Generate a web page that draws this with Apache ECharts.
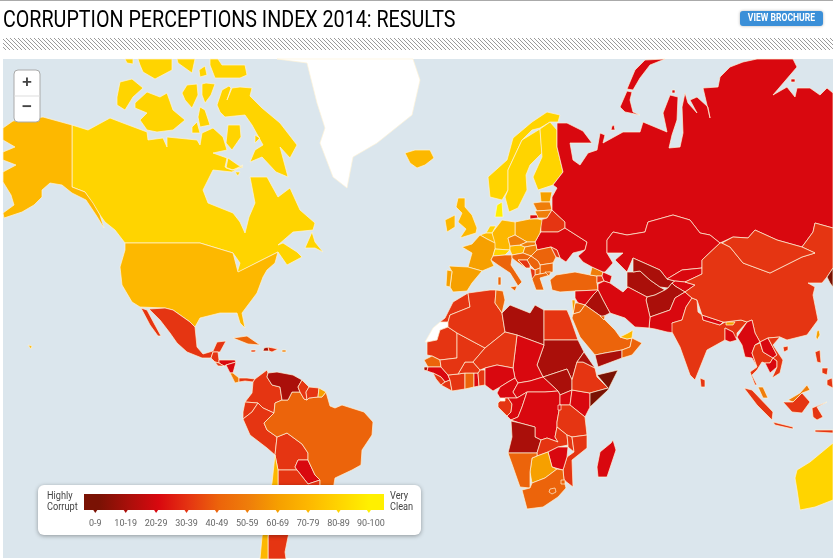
<!DOCTYPE html>
<html>
<head>
<meta charset="utf-8">
<title>Corruption Perceptions Index 2014</title>
<style>
  * { margin: 0; padding: 0; }
  #chart-container { width: 833px; height: 560px; overflow: hidden; }
</style>
</head>
<body>
<div id="chart-container"></div>
<script src="https://cdn.jsdelivr.net/npm/echarts@6/dist/echarts.min.js"></script>
<script>
const countries = ['Canada','United States','Iceland','Mexico','Guatemala','Honduras','El Salvador','Nicaragua','Costa Rica','Panama','Cuba','Haiti','Dominican Republic','Puerto Rico','Jamaica','Colombia','Ecuador','Peru','Bolivia','Paraguay','Argentina','Chile','Brazil','Venezuela','Guyana','Suriname','French Guiana',
  'Norway','Sweden','Finland','Denmark','Estonia','Latvia','Lithuania','Belarus','Ukraine','Poland','Germany','Netherlands','Belgium','France','Spain','Portugal','United Kingdom','Ireland','Switzerland','Italy','Austria','Czech Republic','Slovakia','Hungary','Romania','Moldova','Bulgaria','Serbia','Croatia','Bosnia','Macedonia','Albania','Greece','Turkey','Georgia','Armenia','Azerbaijan','Russia',
  'Kazakhstan','Turkmenistan','Uzbekistan','Kyrgyzstan','Tajikistan','Afghanistan','Pakistan','Iran','Iraq','Syria','Jordan','Israel','Saudi Arabia','Yemen','Oman','UAE','Kuwait','India','Nepal','Bangladesh','Bhutan','China','Mongolia','Taiwan','North Korea','Myanmar','Thailand','Laos','Cambodia','Vietnam','Malaysia','Indonesia','Philippines','Sri Lanka','Australia',
  'Morocco','Mauritania','Senegal','Guinea-Bissau','Guinea','Sierra Leone','Liberia','Ivory Coast','Ghana','Togo','Benin','Burkina Faso','Mali','Algeria','Tunisia','Libya','Egypt','Sudan','South Sudan','Chad','Niger','Nigeria','Cameroon','Central African Republic','Gabon','Congo','DR Congo','Uganda','Kenya','Tanzania','Burundi','Angola','Zambia','Malawi','Mozambique','Zimbabwe','Botswana','Namibia','South Africa','Lesotho','Swaziland','Madagascar','Ethiopia','Eritrea','Somalia'];
const scores = [81,74,79,35,32,29,39,28,54,37,46,19,32,58,38,37,33,38,35,24,34,73,43,19,30,36,69,
  86,87,89,92,69,55,58,31,26,61,79,83,76,69,60,63,78,74,86,43,72,51,50,54,43,35,43,41,48,39,45,33,43,45,52,37,29,27,
  29,17,18,27,23,12,29,27,16,20,49,60,49,19,45,70,44,38,29,25,65,36,39,61,8,21,38,25,21,31,52,34,38,38,80,
  39,30,43,19,25,31,37,32,48,29,39,38,32,36,40,18,37,11,15,22,35,27,27,24,37,23,22,26,25,31,20,19,38,33,31,21,63,49,44,49,43,28,33,18,8];

const bandLabels = ['0-9','10-19','20-29','30-39','40-49','50-59','60-69','70-79','80-89','90-100'];
const bandMins = [0,10,20,30,40,50,60,70,80,90];
const bandMaxs = [9,19,29,39,49,59,69,79,89,100];
const bandColors = ['#7a1204','#aa0f0a','#d9080f','#e53512','#ec640b','#ef7e0a','#f6a000','#fdb800','#ffd400','#fff000'];

// simplified outlines in map units, y pointing down, several rings per country
const outlines = {
  'Greenland': [[[277,59],[307,63],[313,87],[317,103],[325,128],[320,143],[333,177],[347,188],[353,157],[377,143],[412,115],[420,80],[413,59]]],
  'Western Sahara': [[[425,342],[433,328],[440,322],[448,322],[448,327],[440,330],[437,340],[427,342]]],
  'Equatorial Guinea': [[[500,398],[505,398],[505,401],[500,401]]],
  'Canada': [
    [[72,125],[88,130],[110,118],[123,123],[147,132],[148,140],[163,138],[167,147],[167,137],[197,140],[200,145],[202,133],[213,128],[223,137],[227,150],[213,153],[227,158],[225,167],[233,170],[243,165],[232,172],[213,170],[203,190],[208,203],[233,213],[240,222],[245,233],[249,217],[255,203],[250,177],[267,177],[278,197],[290,188],[300,210],[315,223],[313,230],[293,232],[278,245],[283,243],[297,252],[302,257],[287,265],[278,252],[262,260],[237,273],[240,263],[233,253],[200,243],[125,243],[115,230],[105,222],[100,215],[85,192],[72,187]],
    [[135,103],[147,92],[160,97],[167,93],[173,110],[185,120],[173,130],[157,132],[147,130],[140,120],[147,113],[135,108]],
    [[117,97],[120,82],[132,79],[143,88],[133,97],[125,110],[117,105]],
    [[182,93],[187,85],[197,84],[198,95],[192,108],[185,100]],
    [[202,84],[206,83],[215,84],[211,95],[205,103],[202,95]],
    [[200,107],[205,110],[210,125],[200,127],[198,117]],
    [[192,127],[197,122],[200,133],[192,133]],
    [[217,105],[222,90],[229,86],[231,88],[227,100],[232,88],[240,87],[252,88],[250,96],[262,108],[280,123],[297,145],[290,158],[280,147],[288,177],[276,172],[262,157],[250,162],[255,150],[263,145],[252,125],[245,115],[225,117],[220,112]],
    [[228,125],[240,125],[241,137],[232,150],[226,143]],
    [[228,158],[238,165],[243,167],[232,170],[226,168]],
    [[125,59],[133,59],[133,64],[127,63]],
    [[138,59],[172,59],[172,70],[155,79],[143,72],[140,65]],
    [[177,59],[195,59],[192,73],[185,68],[178,63]],
    [[199,70],[205,66],[207,75],[200,77]],
    [[210,59],[218,59],[222,65],[245,65],[247,75],[240,78],[215,78],[210,65]],
    [[305,248],[312,232],[315,242],[323,252],[315,248]],
    [[255,135],[260,138],[255,143]],
    [[235,172],[240,172],[238,176]]
  ],
  'United States': [
    [[125,243],[200,243],[233,253],[238,272],[262,260],[278,252],[275,263],[267,270],[263,277],[260,285],[257,293],[248,305],[242,313],[245,328],[240,323],[237,313],[220,313],[200,318],[195,327],[190,322],[173,310],[165,308],[140,307],[132,302],[122,285],[120,267],[125,250]],
    [[3,128],[13,121],[43,117],[72,125],[72,187],[85,192],[93,203],[100,215],[104,228],[96,215],[86,200],[72,193],[62,185],[50,183],[42,190],[42,197],[34,205],[22,212],[4,218],[3,218],[3,213],[14,205],[11,195],[3,182],[3,172],[16,165],[3,160],[3,152],[15,147],[3,140]],
    [[28,345],[32,346],[31,349]]
  ],
  'Iceland': [[[405,153],[415,150],[430,150],[434,158],[425,165],[417,168],[410,163]]],
  'Mexico': [
    [[141,308],[147,310],[155,325],[161,336],[158,336],[150,325]],
    [[149,309],[165,308],[173,310],[190,322],[195,327],[197,347],[203,354],[213,351],[217,342],[226,341],[220,352],[213,352],[211,358],[202,358],[187,352],[177,343],[170,333],[160,320]]
  ],
  'Guatemala': [[[211,358],[213,352],[218,352],[219,360],[219,363],[215,362]]],
  'Honduras': [[[219,360],[235,360],[236,362],[226,365],[224,366],[219,363]]],
  'El Salvador': [[[215,362],[219,363],[224,366],[218,366]]],
  'Nicaragua': [[[226,365],[236,362],[233,373],[230,373]]],
  'Costa Rica': [[[230,373],[233,373],[239,378],[239,382],[235,383]]],
  'Panama': [[[239,378],[247,378],[255,379],[253,382],[245,381],[239,382]]],
  'Cuba': [[[233,338],[247,336],[260,345],[248,344]]],
  'Haiti': [[[264,348],[268,347],[269,351],[263,351]]],
  'Dominican Republic': [[[268,347],[278,349],[272,352],[269,351]]],
  'Puerto Rico': [[[282,350],[286,350],[286,352],[282,352]]],
  'Jamaica': [[[251,350],[256,350],[255,352],[251,352]]],
  'Colombia': [[[255,379],[267,370],[268,373],[267,377],[272,385],[280,387],[282,400],[275,403],[274,413],[263,408],[258,403],[245,402],[252,393],[253,382]]],
  'Ecuador': [[[245,402],[258,403],[252,412],[243,419],[243,412]]],
  'Peru': [[[243,419],[252,412],[258,403],[263,408],[274,413],[264,423],[267,430],[277,437],[275,455],[267,448],[250,435]]],
  'Bolivia': [[[277,437],[287,433],[302,444],[308,453],[308,460],[298,460],[295,467],[297,470],[282,470],[278,470],[275,455]]],
  'Paraguay': [[[295,467],[298,460],[308,460],[315,475],[320,480],[308,484],[297,470]]],
  'Argentina': [[[278,470],[297,470],[308,484],[320,480],[320,490],[300,510],[290,530],[288,537],[285,552],[286,559],[268,559],[268,537],[272,500],[278,487]]],
  'Chile': [[[275,455],[278,470],[278,487],[272,500],[268,537],[268,559],[260,559],[262,537],[268,500],[272,483]]],
  'Brazil': [[[275,403],[282,400],[288,400],[292,392],[300,392],[304,399],[307,400],[309,398],[318,397],[322,397],[326,392],[330,406],[335,408],[342,405],[364,412],[373,422],[372,435],[362,450],[361,465],[352,470],[335,478],[333,490],[320,495],[320,480],[315,475],[308,460],[308,453],[302,444],[287,433],[277,437],[267,430],[264,423],[274,413]]],
  'Venezuela': [[[268,373],[277,372],[293,375],[302,380],[298,387],[300,392],[292,392],[288,400],[282,400],[280,387],[272,385],[267,377]]],
  'Guyana': [[[302,380],[309,387],[306,392],[307,400],[304,399],[300,392],[298,387]]],
  'Suriname': [[[309,387],[319,388],[318,397],[309,398],[307,400],[306,392]]],
  'French Guiana': [[[319,388],[326,392],[322,397],[318,397]]],
  'Norway': [[[560,115],[547,112],[532,122],[513,138],[507,160],[488,177],[490,197],[502,200],[508,190],[508,170],[522,140],[532,130],[540,128],[550,122],[558,122]]],
  'Sweden': [[[508,170],[522,140],[540,129],[542,153],[530,165],[526,175],[527,190],[518,208],[509,212],[505,197],[508,190]]],
  'Finland': [[[540,129],[550,122],[557,130],[557,147],[563,172],[553,185],[538,190],[533,177],[542,157]]],
  'Denmark': [[[497,205],[502,202],[503,217],[495,217]]],
  'Estonia': [[[540,192],[552,192],[550,202],[541,202]]],
  'Latvia': [[[533,203],[541,202],[550,202],[552,210],[537,211]]],
  'Lithuania': [[[535,211],[552,210],[547,218],[538,218]]],
  'Belarus': [[[552,210],[565,222],[565,228],[558,232],[541,232],[540,220],[547,218]]],
  'Ukraine': [[[541,232],[558,232],[565,228],[587,242],[585,250],[573,253],[566,262],[560,258],[557,250],[551,247],[537,250],[536,245],[535,242],[540,233]]],
  'Poland': [[[515,222],[530,219],[538,219],[542,220],[540,233],[535,242],[527,242],[515,235],[515,233]]],
  'Germany': [[[492,233],[502,220],[515,222],[515,235],[508,238],[510,246],[510,250],[495,249]]],
  'Netherlands': [[[486,233],[490,226],[496,226],[492,233]]],
  'Belgium': [[[480,235],[486,233],[492,233],[495,243],[487,239]]],
  'France': [[[480,235],[487,239],[495,243],[495,249],[493,256],[491,260],[494,266],[482,271],[468,267],[472,253],[462,247],[472,244]]],
  'Spain': [[[449,266],[468,267],[482,271],[472,283],[467,291],[453,292],[450,287],[452,272]]],
  'Portugal': [[[447,270],[452,271],[450,287],[446,286]]],
  'United Kingdom': [[[458,198],[465,198],[465,207],[472,215],[477,228],[476,233],[460,238],[466,229],[458,222],[462,213],[456,207]]],
  'Ireland': [[[445,220],[455,215],[455,227],[447,232]]],
  'Switzerland': [[[495,249],[510,250],[505,255],[493,256]]],
  'Italy': [
    [[493,256],[505,255],[512,255],[512,258],[511,265],[522,282],[518,286],[510,273],[498,265],[491,260]],
    [[498,277],[501,277],[501,285],[498,285]],
    [[510,287],[517,286],[515,291]]
  ],
  'Austria': [[[510,246],[520,245],[525,247],[523,253],[512,255],[510,250]]],
  'Czech Republic': [[[508,238],[515,235],[527,242],[520,245],[510,246]]],
  'Slovakia': [[[527,242],[535,242],[536,245],[525,247],[520,245]]],
  'Hungary': [[[525,247],[536,245],[537,250],[531,256],[523,253]]],
  'Romania': [[[537,250],[551,247],[556,257],[553,263],[540,265],[538,261],[531,256]]],
  'Moldova': [[[551,247],[557,250],[560,258],[556,257]]],
  'Bulgaria': [[[540,265],[553,263],[553,272],[540,274],[540,268]]],
  'Serbia': [[[531,256],[538,261],[540,265],[540,268],[535,270],[530,265],[527,260]]],
  'Croatia': [[[512,255],[523,253],[531,256],[527,260],[518,260],[526,268],[517,262],[512,258]]],
  'Bosnia': [[[518,260],[527,260],[530,265],[530,268],[526,268]]],
  'Macedonia': [[[535,270],[540,268],[540,274],[535,275]]],
  'Albania': [[[530,268],[535,270],[535,275],[535,277],[532,279]]],
  'Greece': [[[532,279],[535,275],[540,274],[550,272],[550,275],[540,278],[544,290],[536,290]]],
  'Turkey': [
    [[550,280],[556,275],[575,272],[590,275],[597,276],[597,283],[598,290],[575,291],[560,292],[552,290]],
    [[545,272],[551,272],[549,276]]
  ],
  'Georgia': [[[592,267],[603,272],[602,276],[597,276],[590,275]]],
  'Armenia': [[[597,276],[602,276],[604,281],[597,283]]],
  'Azerbaijan': [[[603,272],[612,276],[610,283],[604,281],[602,276]]],
  'Russia': [
    [[557,123],[567,123],[583,131],[592,143],[570,143],[573,160],[580,165],[588,153],[597,150],[600,133],[605,135],[603,143],[623,132],[640,132],[643,122],[667,132],[663,113],[670,95],[678,97],[677,120],[672,135],[669,148],[680,147],[683,133],[682,107],[685,93],[688,103],[697,113],[690,100],[697,97],[708,107],[710,118],[703,88],[718,87],[720,77],[730,67],[743,62],[757,59],[793,59],[797,67],[773,95],[787,87],[795,97],[797,88],[810,88],[820,95],[827,88],[833,93],[833,228],[815,223],[813,232],[802,247],[777,240],[755,230],[748,238],[733,237],[720,243],[710,235],[700,233],[690,220],[673,215],[648,222],[645,232],[627,235],[613,232],[607,240],[607,253],[613,263],[605,272],[603,272],[592,267],[583,262],[578,256],[585,250],[587,242],[565,228],[565,222],[552,210],[552,197],[557,188],[553,185],[563,172],[557,147],[557,130]],
    [[620,107],[627,91],[632,92],[630,100],[633,112],[640,115],[625,112]],
    [[627,89],[635,70],[645,60],[665,59],[650,65],[640,78],[633,90]],
    [[612,126],[614,125],[615,130],[611,130]],
    [[672,90],[675,90],[675,93],[672,93]],
    [[791,79],[795,79],[795,82],[791,82]],
    [[530,215],[537,215],[538,218],[530,219]]
  ],
  'Kazakhstan': [[[607,240],[613,232],[627,235],[645,232],[648,222],[673,215],[690,220],[700,233],[710,235],[720,243],[702,260],[702,268],[682,270],[667,279],[660,270],[633,258],[627,272],[615,260],[623,253],[607,253]]],
  'Turkmenistan': [[[627,272],[633,272],[640,271],[650,280],[660,287],[665,290],[655,295],[647,297],[628,287],[627,287]]],
  'Uzbekistan': [[[633,258],[660,270],[667,279],[675,281],[672,283],[668,288],[660,287],[650,280],[640,271],[633,272]]],
  'Kyrgyzstan': [[[667,279],[682,270],[702,268],[702,274],[685,282],[675,281]]],
  'Tajikistan': [[[672,283],[675,281],[685,282],[695,285],[685,292],[675,286]]],
  'Afghanistan': [[[647,297],[655,295],[665,290],[668,288],[672,283],[675,286],[685,292],[675,298],[670,310],[650,317],[646,300]]],
  'Pakistan': [[[650,317],[670,310],[675,298],[685,292],[692,298],[686,307],[682,320],[672,323],[675,333],[667,332],[655,329],[649,328]]],
  'Iran': [[[598,284],[604,281],[610,283],[623,292],[628,287],[647,297],[646,300],[650,317],[649,328],[635,327],[625,318],[610,313],[603,300],[598,290]]],
  'Iraq': [[[598,290],[603,300],[610,313],[602,317],[585,305],[593,295]]],
  'Syria': [[[575,291],[598,290],[593,295],[585,305],[578,303],[575,298]]],
  'Jordan': [[[575,303],[578,303],[585,305],[580,312],[573,314]]],
  'Israel': [[[572,300],[575,300],[575,303],[573,314]]],
  'Saudi Arabia': [[[572,318],[573,314],[580,312],[585,305],[602,317],[610,325],[615,330],[620,337],[627,339],[632,338],[630,347],[622,350],[605,353],[595,355],[580,337]]],
  'Yemen': [[[595,355],[605,353],[622,350],[622,358],[598,367]]],
  'Oman': [[[622,350],[630,347],[632,338],[642,343],[632,355],[622,358]]],
  'UAE': [[[620,337],[628,333],[633,330],[632,338],[627,339]]],
  'Kuwait': [[[600,316],[605,316],[604,320]]],
  'India': [[[686,307],[692,298],[697,300],[698,312],[702,315],[703,320],[720,325],[725,322],[741,320],[747,322],[737,333],[737,337],[733,340],[733,332],[725,328],[725,340],[707,350],[695,380],[690,375],[680,347],[672,332],[672,323],[682,320]]],
  'Nepal': [[[702,315],[723,322],[720,325],[703,320]]],
  'Bangladesh': [[[725,328],[733,332],[737,340],[730,342],[725,340]]],
  'Bhutan': [[[726,322],[735,322],[733,325],[726,325]]],
  'China': [
    [[685,282],[702,274],[702,260],[720,243],[722,243],[730,247],[743,263],[770,273],[802,257],[815,253],[802,247],[813,232],[815,223],[833,228],[833,268],[827,277],[822,283],[808,283],[815,287],[813,295],[818,320],[807,335],[787,340],[780,337],[768,338],[760,342],[755,333],[752,320],[747,322],[741,320],[725,322],[723,322],[702,315],[697,300],[692,298],[685,292],[695,285]],
    [[783,347],[788,346],[788,350],[784,352]]
  ],
  'Mongolia': [[[722,243],[733,237],[748,238],[755,230],[777,240],[802,247],[815,253],[802,257],[770,273],[743,263],[730,247]]],
  'Taiwan': [[[817,331],[819,330],[820,335],[817,340],[816,337]]],
  'North Korea': [[[833,268],[827,277],[830,283],[833,287]]],
  'Myanmar': [[[737,337],[747,322],[752,320],[755,333],[760,342],[755,345],[752,353],[757,367],[752,358],[745,357],[742,345]]],
  'Thailand': [[[752,353],[755,345],[760,343],[763,352],[773,358],[770,363],[765,363],[762,362],[757,370],[752,375],[757,385],[755,385],[750,372],[757,367]]],
  'Laos': [[[760,342],[768,338],[777,355],[773,358],[763,352]]],
  'Cambodia': [[[765,363],[770,363],[773,358],[777,361],[777,367],[770,373]]],
  'Vietnam': [[[768,338],[780,337],[773,345],[783,360],[780,373],[772,378],[777,367],[777,361],[773,358],[777,355]]],
  'Malaysia': [
    [[758,387],[763,387],[768,398],[763,398]],
    [[788,400],[800,393],[807,385],[810,390],[802,393],[793,402]]
  ],
  'Indonesia': [
    [[744,388],[752,390],[773,412],[772,420],[757,405]],
    [[773,422],[793,427],[793,429],[775,425]],
    [[783,402],[793,402],[802,393],[810,402],[802,413],[792,412]],
    [[812,408],[827,402],[817,407],[823,417],[817,420],[813,417]],
    [[815,430],[833,430],[833,433],[815,432]]
  ],
  'Philippines': [
    [[815,352],[820,350],[821,363],[817,362]],
    [[827,380],[832,378],[833,388],[827,385]],
    [[822,368],[828,368],[827,375],[822,373]]
  ],
  'Sri Lanka': [[[700,378],[705,380],[705,387],[701,387]]],
  'Australia': [[[797,470],[810,462],[833,443],[833,500],[815,507],[800,510],[797,490],[795,478]]],
  'Morocco': [[[440,322],[445,318],[453,302],[468,293],[470,307],[450,315],[448,322]]],
  'Mauritania': [[[427,342],[437,340],[440,330],[448,327],[457,333],[457,358],[440,360],[432,356],[427,355]]],
  'Senegal': [[[424,360],[432,356],[440,360],[441,367],[428,367]]],
  'Guinea-Bissau': [[[424,367],[428,367],[427,371],[424,370]]],
  'Guinea': [[[428,367],[441,367],[448,375],[450,380],[445,382],[441,377],[433,373],[427,371]]],
  'Sierra Leone': [[[433,373],[441,377],[445,382],[441,385],[436,379]]],
  'Liberia': [[[445,382],[450,380],[452,391],[441,385]]],
  'Ivory Coast': [[[448,375],[458,374],[465,373],[465,389],[452,391],[450,380]]],
  'Ghana': [[[465,373],[474,373],[474,387],[465,389]]],
  'Togo': [[[474,373],[478,373],[479,386],[474,387]]],
  'Benin': [[[478,373],[480,370],[485,370],[485,385],[479,386]]],
  'Burkina Faso': [[[458,374],[465,362],[473,362],[480,370],[478,373],[465,373]]],
  'Mali': [[[457,333],[485,348],[473,362],[465,362],[458,374],[448,375],[441,367],[440,360],[457,358]]],
  'Algeria': [[[448,322],[450,315],[470,307],[468,293],[490,290],[496,290],[495,303],[502,313],[505,332],[485,348],[457,333],[448,327]]],
  'Tunisia': [[[496,290],[503,291],[505,300],[502,313],[495,303]]],
  'Libya': [[[502,313],[510,305],[530,313],[535,305],[544,310],[544,345],[517,335],[505,332]]],
  'Egypt': [[[544,310],[567,310],[570,317],[578,340],[544,340]]],
  'Sudan': [[[544,340],[578,340],[584,352],[577,362],[572,380],[567,369],[543,377],[537,365],[544,345]]],
  'South Sudan': [[[543,377],[567,369],[572,380],[572,390],[560,395],[558,391]]],
  'Chad': [[[517,335],[544,345],[537,365],[543,377],[530,381],[518,383],[515,378],[513,368]]],
  'Niger': [[[485,348],[505,332],[517,335],[513,368],[497,365],[485,368],[480,370],[473,362]]],
  'Nigeria': [[[485,370],[485,368],[497,365],[513,368],[515,378],[508,382],[500,387],[493,391],[485,385]]],
  'Cameroon': [[[515,378],[518,383],[513,392],[517,398],[500,398],[497,393],[500,387],[508,382]]],
  'Central African Republic': [[[518,383],[530,381],[543,377],[558,391],[545,392],[527,392],[517,398],[513,392]]],
  'Gabon': [[[498,403],[500,401],[505,401],[505,398],[508,398],[512,404],[511,412],[507,416],[498,407]]],
  'Congo': [[[508,398],[517,398],[527,392],[522,407],[518,417],[511,420],[507,416],[511,412],[512,404]]],
  'DR Congo': [[[527,392],[545,392],[558,391],[560,395],[560,405],[557,422],[557,427],[555,437],[558,442],[547,438],[541,440],[535,437],[535,427],[520,423],[511,420],[518,417],[522,407]]],
  'Uganda': [[[560,395],[572,390],[570,405],[560,405]]],
  'Kenya': [[[572,390],[590,393],[590,407],[585,417],[570,405]]],
  'Tanzania': [[[560,405],[570,405],[585,417],[587,435],[572,437],[567,435],[557,427],[557,422]]],
  'Burundi': [[[558,405],[561,405],[561,410],[558,410]]],
  'Angola': [[[511,421],[520,423],[535,427],[535,437],[541,440],[537,453],[508,453],[512,437]]],
  'Zambia': [[[541,440],[547,438],[558,442],[555,437],[557,427],[567,435],[568,445],[558,447],[548,452],[537,456],[537,453]]],
  'Malawi': [[[567,435],[572,437],[574,452],[568,447],[568,445]]],
  'Mozambique': [[[572,437],[587,435],[587,448],[572,460],[573,487],[564,480],[563,470],[567,457],[574,452]]],
  'Zimbabwe': [[[548,452],[558,447],[568,447],[567,457],[563,470],[552,467]]],
  'Botswana': [[[537,456],[548,452],[552,467],[557,469],[545,478],[532,483],[530,472],[532,458]]],
  'Namibia': [[[508,453],[537,453],[537,456],[532,458],[530,472],[530,488],[520,487],[513,467]]],
  'South Africa': [[[530,488],[532,483],[545,478],[557,469],[563,470],[564,480],[566,488],[558,497],[543,507],[527,509],[522,490]]],
  'Lesotho': [[[550,489],[555,488],[556,492],[552,494],[549,492]]],
  'Swaziland': [[[561,480],[565,480],[565,484],[561,484]]],
  'Madagascar': [[[613,440],[616,450],[607,477],[598,477],[597,467],[600,452],[611,443]]],
  'Ethiopia': [[[572,380],[577,362],[583,362],[595,368],[597,377],[608,388],[590,393],[572,390]]],
  'Eritrea': [[[577,362],[584,352],[595,368],[583,362]]],
  'Somalia': [[[597,375],[618,370],[608,390],[590,407],[590,393],[608,388]]]
};

const geoJson = {
  type: 'FeatureCollection',
  features: Object.keys(outlines).map(function (name) {
    return {
      type: 'Feature',
      properties: { name: name },
      geometry: { type: 'MultiPolygon', coordinates: outlines[name].map(function (ring) { return [ring]; }) }
    };
  })
};
echarts.registerMap('cpi', geoJson);

// stripe under the header
const stripe = document.createElement('canvas');
stripe.width = 4;
stripe.height = 4;
const ctx = stripe.getContext('2d');
ctx.strokeStyle = '#9a9a9a';
ctx.lineWidth = 1;
ctx.beginPath();
ctx.moveTo(0, 0); ctx.lineTo(4, 4);
ctx.moveTo(-1, 3); ctx.lineTo(1, 5);
ctx.moveTo(3, -1); ctx.lineTo(5, 1);
ctx.stroke();

const font = 'Roboto, sans-serif';
const legendLeft = 84, legendWidth = 300, legendTop = 494, legendHeight = 16;
const tickFirst = 95.3, tickStep = 30.4;

const legendParts = [
  { type: 'rect', z: 100, shape: { x: 38, y: 485, width: 383, height: 50, r: 6 },
    style: { fill: '#fff', shadowBlur: 4, shadowColor: 'rgba(0,0,0,0.35)', shadowOffsetY: 1 } },
  { type: 'rect', z: 101, shape: { x: legendLeft, y: legendTop, width: legendWidth, height: legendHeight },
    style: { fill: new echarts.graphic.LinearGradient(0, 0, 1, 0, bandColors.map(function (c, i) {
      return { offset: (i + 0.5) / bandColors.length, color: c };
    })) } },
  { type: 'text', z: 101, x: 47, y: 491, scaleX: 0.92, style: { text: 'Highly\nCorrupt', font: '10px ' + font, fill: '#444', lineHeight: 11 } },
  { type: 'text', z: 101, x: 390, y: 491, scaleX: 0.92, style: { text: 'Very\nClean', font: '10px ' + font, fill: '#444', lineHeight: 11 } }
];
bandLabels.forEach(function (label, i) {
  const x = tickFirst + tickStep * i;
  legendParts.push({ type: 'polygon', z: 101,
    shape: { points: [[x - 2, legendTop + legendHeight], [x + 2, legendTop + legendHeight], [x, legendTop + legendHeight + 3]] },
    style: { fill: bandColors[i] } });
  legendParts.push({ type: 'text', z: 101, x: i === 9 ? x + 2 : x, y: 519,
    style: { text: label, font: '9px ' + font, fill: '#666', align: 'center' } });
});

const chart = echarts.init(document.getElementById('chart-container'), null, { renderer: 'canvas' });

chart.setOption({
  backgroundColor: '#fff',
  animation: false,
  visualMap: {
    show: false,
    type: 'piecewise',
    seriesIndex: 0,
    pieces: bandColors.map(function (c, i) {
      return { gte: bandMins[i], lte: bandMaxs[i], color: c };
    })
  },
  graphic: [
    { type: 'rect', z: -1, silent: true, shape: { x: 3, y: 59, width: 830, height: 499 }, style: { fill: '#dbe6ed' } },
    { type: 'rect', z: 50, shape: { x: 0, y: 0, width: 833, height: 1 }, style: { fill: '#aaa' } },
    { type: 'rect', z: 50, shape: { x: 3, y: 38, width: 830, height: 12 }, style: { fill: { image: stripe, repeat: 'repeat' } } },
    { type: 'text', z: 50, x: 3, y: 10, scaleX: 0.856, style: { text: 'CORRUPTION PERCEPTIONS INDEX 2014: RESULTS', font: '23px ' + font, fill: '#000' } },
    { type: 'rect', z: 50, shape: { x: 740, y: 11, width: 83, height: 15, r: 3 }, style: { fill: '#3a8fd8', shadowBlur: 3, shadowColor: 'rgba(0,0,0,0.3)' } },
    { type: 'text', z: 51, x: 781.5, y: 13, scaleX: 0.86, style: { text: 'VIEW BROCHURE', font: 'bold 10px ' + font, fill: '#fff', align: 'center' } },
    { type: 'rect', z: 50, shape: { x: 14, y: 70, width: 26, height: 52, r: 4 }, style: { fill: '#fff', stroke: '#aaa', lineWidth: 1 } },
    { type: 'line', z: 51, shape: { x1: 14, y1: 96, x2: 40, y2: 96 }, style: { stroke: '#ddd', lineWidth: 1 } },
    { type: 'text', z: 51, x: 27, y: 74, style: { text: '+', font: 'bold 17px "Liberation Sans", sans-serif', fill: '#444', align: 'center' } },
    { type: 'text', z: 51, x: 27, y: 99, style: { text: '−', font: 'bold 17px "Liberation Sans", sans-serif', fill: '#444', align: 'center' } }
  ].concat(legendParts),
  series: [{
    type: 'map',
    map: 'cpi',
    projection: {
      project: function (p) { return p; },
      unproject: function (p) { return p; }
    },
    boundingCoords: [[0, 0], [833, 560]],
    layoutCenter: ['50%', '50%'],
    layoutSize: 833,
    aspectScale: 1,
    roam: false,
    silent: true,
    label: { show: false },
    itemStyle: { areaColor: '#fff', borderColor: '#fff3d8', borderWidth: 0.7 },
    data: countries.map(function (name, i) { return { name: name, value: scores[i] }; })
  }]
});

window.addEventListener('resize', chart.resize);
</script>
</body>
</html>
